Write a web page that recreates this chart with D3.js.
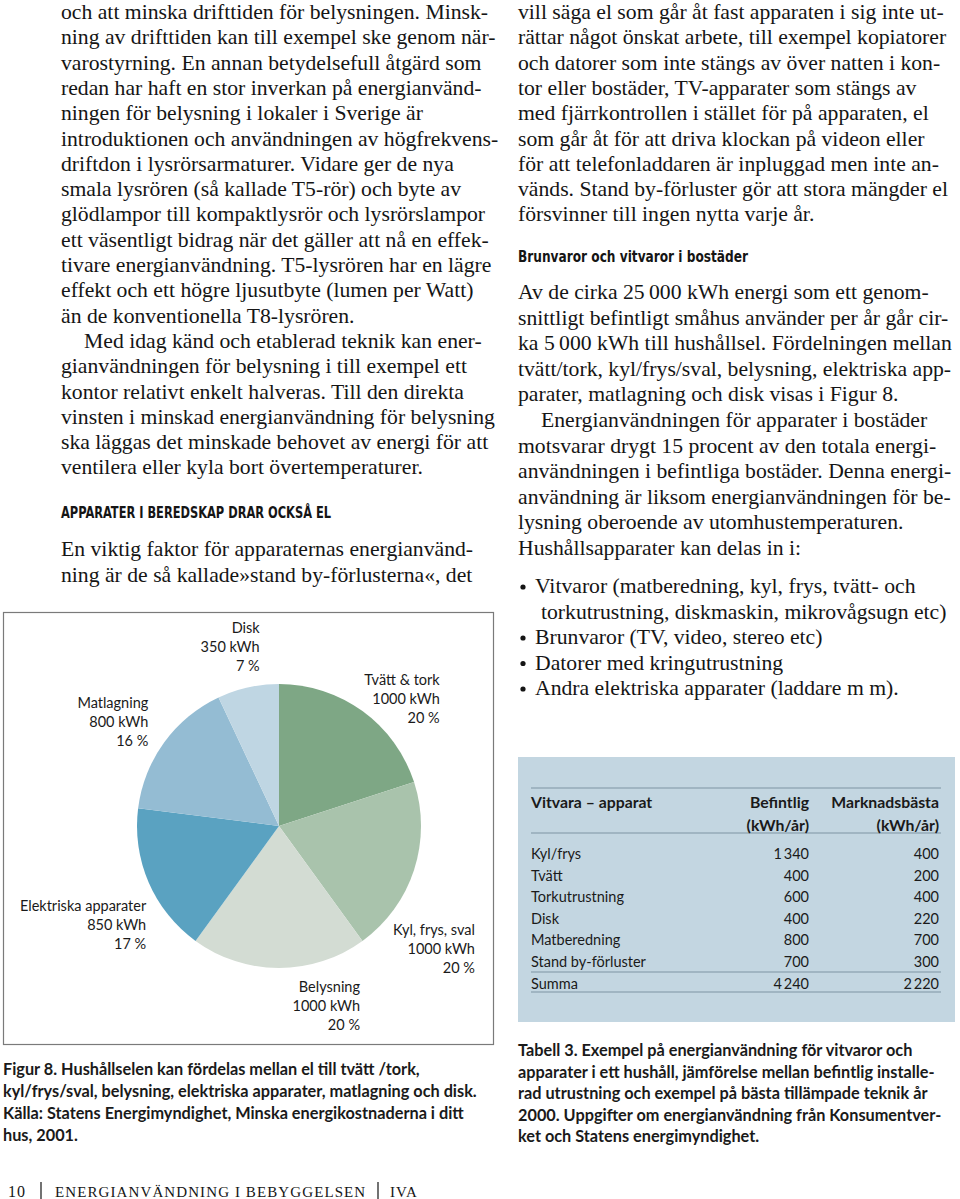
<!DOCTYPE html>
<html><head><meta charset="utf-8">
<script src="https://cdn.jsdelivr.net/npm/d3@7"></script>
<style>
html,body{margin:0;padding:0;background:#fff;}
svg{display:block;}
.body{font-family:"Liberation Serif","Times New Roman",serif;font-size:21.7px;fill:#151515;}
.sans{font-family:Lato,"Open Sans",sans-serif;fill:#1a1a1a;}
.head{font-family:"DejaVu Sans Condensed","DejaVu Sans",sans-serif;font-weight:bold;fill:#151515;font-stretch:condensed;}
</style></head><body>
<svg id="page" width="960" height="1199"></svg>
<script>
// ---------- DATA ----------
const pieCategories = ["Tvätt & tork", "Kyl, frys, sval", "Belysning", "Elektriska apparater", "Matlagning", "Disk"];
const pieValues = [1000, 1000, 1000, 850, 800, 350];
const piePercent = [20, 20, 20, 17, 16, 7];
const pieColors = ["#7ea785", "#a9c3ac", "#d3dcd3", "#5aa2c1", "#94bcd3", "#bfd6e3"];

const tableItems = ["Kyl/frys", "Tvätt", "Torkutrustning", "Disk", "Matberedning", "Stand by-förluster"];
const tableBefintlig = [1340, 400, 600, 400, 800, 700];
const tableMarknadsbasta = [400, 200, 400, 220, 700, 300];
const tableColHeads = ["Vitvara – apparat", "Befintlig", "Marknadsbästa"];
const tableUnit = "(kWh/år)";
const tableSumLabel = "Summa";

const leftLines = [
"och att minska drifttiden för belysningen. Minsk-",
"ning av drifttiden kan till exempel ske genom när-",
"varostyrning. En annan betydelsefull åtgärd som",
"redan har haft en stor inverkan på energianvänd-",
"ningen för belysning i lokaler i Sverige är",
"introduktionen och användningen av högfrekvens-",
"driftdon i lysrörsarmaturer. Vidare ger de nya",
"smala lysrören (så kallade T5-rör) och byte av",
"glödlampor till kompaktlysrör och lysrörslampor",
"ett väsentligt bidrag när det gäller att nå en effek-",
"tivare energianvändning. T5-lysrören har en lägre",
"effekt och ett högre ljusutbyte (lumen per Watt)",
"än de konventionella T8-lysrören.",
"\tMed idag känd och etablerad teknik kan ener-",
"gianvändningen för belysning i till exempel ett",
"kontor relativt enkelt halveras. Till den direkta",
"vinsten i minskad energianvändning för belysning",
"ska läggas det minskade behovet av energi för att",
"ventilera eller kyla bort övertemperaturer."
];
const leftHeading = "APPARATER I BEREDSKAP DRAR OCKSÅ EL";
const leftLines2 = [
"En viktig faktor för apparaternas energianvänd-",
"ning är de så kallade»stand by-förlusterna«, det"
];
const rightLines = [
"vill säga el som går åt fast apparaten i sig inte ut-",
"rättar något önskat arbete, till exempel kopiatorer",
"och datorer som inte stängs av över natten i kon-",
"tor eller bostäder, TV-apparater som stängs av",
"med fjärrkontrollen i stället för på apparaten, el",
"som går åt för att driva klockan på videon eller",
"för att telefonladdaren är inpluggad men inte an-",
"vänds. Stand by-förluster gör att stora mängder el",
"försvinner till ingen nytta varje år."
];
const rightHeading = "Brunvaror och vitvaror i bostäder";
const rightLines2 = [
"Av de cirka 25\u2009000 kWh energi som ett genom-",
"snittligt befintligt småhus använder per år går cir-",
"ka 5\u2009000 kWh till hushållsel. Fördelningen mellan",
"tvätt/tork, kyl/frys/sval, belysning, elektriska app-",
"parater, matlagning och disk visas i Figur 8.",
"\tEnergianvändningen för apparater i bostäder",
"motsvarar drygt 15 procent av den totala energi-",
"användningen i befintliga bostäder. Denna energi-",
"användning är liksom energianvändningen för be-",
"lysning oberoende av utomhustemperaturen.",
"Hushållsapparater kan delas in i:"
];
const bulletLines = [
"•Vitvaror (matberedning, kyl, frys, tvätt- och",
" torkutrustning, diskmaskin, mikrovågsugn etc)",
"•Brunvaror (TV, video, stereo etc)",
"•Datorer med kringutrustning",
"•Andra elektriska apparater (laddare m m)."
];
const figCaption = [
"Figur 8. Hushållselen kan fördelas mellan el till tvätt /tork,",
"kyl/frys/sval, belysning, elektriska apparater, matlagning och disk.",
"Källa: Statens Energimyndighet, Minska energikostnaderna i ditt",
"hus, 2001."
];
const tabCaption = [
"Tabell 3. Exempel på energianvändning för vitvaror och",
"apparater i ett hushåll, jämförelse mellan befintlig installe-",
"rad utrustning och exempel på bästa tillämpade teknik år",
"2000. Uppgifter om energianvändning från Konsumentver-",
"ket och Statens energimyndighet."
];
const footerParts = ["10", "ENERGIANVÄNDNING I BEBYGGELSEN", "IVA"];

// ---------- DRAW ----------
const svg = d3.select("#page");

function textBlock(lines, x, y0, step, cls, indent) {
  const g = svg.append("g");
  g.selectAll("text").data(lines).join("text")
    .attr("class", cls)
    .attr("x", d => (d.startsWith("\t") || d.startsWith(" ")) ? x + indent : x)
    .attr("y", (d, i) => y0 + i * step)
    .text(d => d.replace(/^[\t ]/, ""));
  return g;
}

// left column
textBlock(leftLines, 61, 19, 25.3, "body", 23);
svg.append("text").attr("class", "head").attr("x", 61).attr("y", 518)
  .style("font-size", "15px").attr("textLength", 270).attr("lengthAdjust", "spacingAndGlyphs").text(leftHeading);
textBlock(leftLines2, 61, 556, 25.5, "body", 0);

// right column
textBlock(rightLines, 518, 19, 25.3, "body", 23);
svg.append("text").attr("class", "head").attr("x", 518).attr("y", 262)
  .style("font-size", "16px").attr("textLength", 230).attr("lengthAdjust", "spacingAndGlyphs").text(rightHeading);
textBlock(rightLines2, 518, 299, 25.6, "body", 23);

// bullets
const bl = svg.append("g");
bulletLines.forEach((d, i) => {
  const y = 593 + i * 25.5;
  if (d.startsWith("•")) {
    bl.append("circle").attr("cx", 523).attr("cy", y - 6).attr("r", 2.6).attr("fill", "#151515");
    bl.append("text").attr("class", "body").attr("x", 535).attr("y", y).text(d.slice(1));
  } else {
    bl.append("text").attr("class", "body").attr("x", 541).attr("y", y).text(d.trim());
  }
});

// ---------- PIE ----------
svg.append("rect").attr("x", 3.5).attr("y", 612.5).attr("width", 490).attr("height", 432)
  .attr("fill", "none").attr("stroke", "#7a7a7a").attr("stroke-width", 1.2);

const cx = 279, cy = 826, R = 142;
const pieData = pieCategories.map((c, i) => ({cat: c, value: pieValues[i], pct: piePercent[i], color: pieColors[i]}));
const pie = d3.pie().value(d => d.value).sort(null);
const arcs = pie(pieData);
const arc = d3.arc().innerRadius(0).outerRadius(R);
const labelArc = d3.arc().innerRadius(185).outerRadius(185);
const pg = svg.append("g").attr("transform", `translate(${cx},${cy})`);
pg.selectAll("path").data(arcs).join("path")
  .attr("d", arc).attr("fill", d => d.data.color);

// label nudges from label-arc centroid to right-aligned text block
const labelNudge = {
  "Tvätt & tork": [52, 9],
  "Kyl, frys, sval": [20, 52],
  "Belysning": [81, -19],
  "Elektriska apparater": [37, 11.5],
  "Matlagning": [19, -9],
  "Disk": [21, -12.5]
};
const lg = pg.selectAll("g.lab").data(arcs).join("g").attr("class", "lab")
  .attr("transform", d => {
    const c = labelArc.centroid(d);
    const n = labelNudge[d.data.cat];
    return `translate(${c[0] + n[0]},${c[1] + n[1]})`;
  });
lg.selectAll("text").data(d => [d.data.cat, `${d.data.value} kWh`, `${d.data.pct} %`]).join("text")
  .attr("class", "sans").attr("text-anchor", "end")
  .attr("y", (d, i) => i * 18.8)
  .style("font-size", "14.5px")
  .text(d => d);

// figure caption
textBlock(figCaption, 3, 1075, 22, "sans", 0).selectAll("text")
  .style("font-weight", "bold").style("font-size", "16.3px");

// ---------- TABLE ----------
svg.append("rect").attr("x", 518).attr("y", 757).attr("width", 437).attr("height", 265).attr("fill", "#c3d6e1");
const tx0 = 531, tx1 = 809, tx2 = 939;
const fmt = d3.formatLocale({decimal: ",", thousands: "\u2009", grouping: [3], currency: ["", ""]}).format(",d");
const tg = svg.append("g");
const rule = (y) => tg.append("line").attr("x1", tx0).attr("x2", tx2 + 2).attr("y1", y).attr("y2", y)
  .attr("stroke", "#7f94a3").attr("stroke-width", 1.2);
rule(788); rule(833); rule(972); rule(992);
const hdr = [[tableColHeads[0], tx0, "start"], [tableColHeads[1], tx1, "end"], [tableColHeads[2], tx2, "end"]];
hdr.forEach(h => tg.append("text").attr("class", "sans").attr("x", h[1]).attr("y", 808)
  .attr("text-anchor", h[2]).style("font-weight", "bold").style("font-size", "15.8px").text(h[0]));
[tx1, tx2].forEach(x => tg.append("text").attr("class", "sans").attr("x", x).attr("y", 831)
  .attr("text-anchor", "end").style("font-weight", "bold").style("font-size", "15.8px").text(tableUnit));
const rowY = d3.scalePoint().domain(tableItems).range([859, 967]);
const rows = tableItems.map((t, i) => ({t, a: tableBefintlig[i], b: tableMarknadsbasta[i]}));
rows.push({t: tableSumLabel, a: d3.sum(tableBefintlig), b: d3.sum(tableMarknadsbasta)});
const ry = (d, i) => i < tableItems.length ? rowY(d.t) : 989;
const rg = tg.selectAll("g.row").data(rows).join("g").attr("class", "row");
rg.append("text").attr("class", "sans").attr("x", tx0).attr("y", ry).style("font-size", "14.5px").text(d => d.t);
rg.append("text").attr("class", "sans").attr("x", tx1).attr("y", ry).attr("text-anchor", "end").style("font-size", "14.5px").text(d => fmt(d.a));
rg.append("text").attr("class", "sans").attr("x", tx2).attr("y", ry).attr("text-anchor", "end").style("font-size", "14.5px").text(d => fmt(d.b));

// table caption
textBlock(tabCaption, 518, 1056, 21.5, "sans", 0).selectAll("text")
  .style("font-weight", "bold").style("font-size", "16.3px");

// ---------- FOOTER ----------
const fg = svg.append("g");
fg.append("text").attr("class", "body").attr("x", 8).attr("y", 1197).style("font-size", "16px")
  .style("letter-spacing", "1px").text(footerParts[0]);
fg.append("text").attr("class", "body").attr("x", 55).attr("y", 1197).style("font-size", "15px")
  .style("letter-spacing", "1.1px").text(footerParts[1]);
fg.append("text").attr("class", "body").attr("x", 390).attr("y", 1197).style("font-size", "15px")
  .style("letter-spacing", "1.1px").text(footerParts[2]);
[41, 378].forEach(x => fg.append("line").attr("x1", x).attr("x2", x).attr("y1", 1182).attr("y2", 1199)
  .attr("stroke", "#151515").attr("stroke-width", 1.2));
</script>
</body></html>
